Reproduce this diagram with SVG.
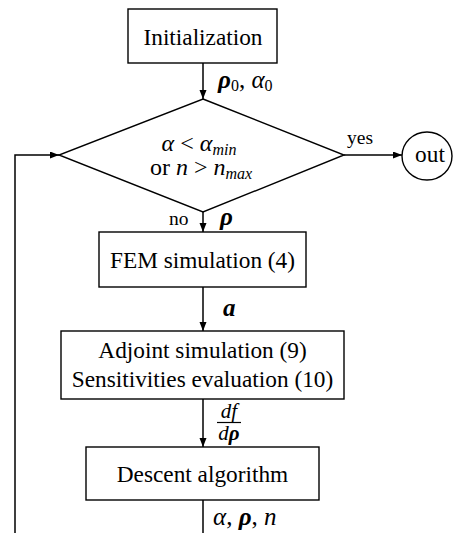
<svg xmlns="http://www.w3.org/2000/svg" width="453" height="533" viewBox="0 0 453 533">
<style>
.box{fill:#fff;stroke:#000;stroke-width:1.4}
.ln{fill:none;stroke:#000;stroke-width:1.5}
.t{font-family:"Liberation Serif","Times New Roman",serif;font-size:23.3px;fill:#000}
.lb{font-family:"Liberation Serif","Times New Roman",serif;font-size:19.5px;fill:#000}
.m{font-family:"Liberation Serif","Times New Roman",serif;font-size:25px;fill:#000}
.dm{font-family:"Liberation Serif","Times New Roman",serif;font-size:24px;fill:#000}
.fr{font-family:"Liberation Serif","Times New Roman",serif;font-size:21px;fill:#000}
.i{font-style:italic}
.bi{font-style:italic;font-weight:bold}
.sub{font-size:16px}
</style>
<defs>
<marker id="ah" markerUnits="userSpaceOnUse" markerWidth="10" markerHeight="8" refX="9" refY="3.5" orient="auto">
<path d="M0,0 L9,3.5 L0,7 z" fill="#000"/>
</marker>
</defs>
<g id="connectors">
<line class="ln" x1="203" y1="63" x2="203" y2="99" marker-end="url(#ah)"/>
<line class="ln" x1="203" y1="212" x2="203" y2="232" marker-end="url(#ah)"/>
<line class="ln" x1="203" y1="287" x2="203" y2="331" marker-end="url(#ah)"/>
<line class="ln" x1="203" y1="399" x2="203" y2="447" marker-end="url(#ah)"/>
<line class="ln" x1="203" y1="500" x2="203" y2="533"/>
<line class="ln" x1="344" y1="155" x2="402" y2="155" marker-end="url(#ah)"/>
<polyline class="ln" points="15,533 15,155 59,155" marker-end="url(#ah)"/>
<text class="m" x="218" y="88"><tspan class="bi">ρ</tspan><tspan class="sub" dy="3">0</tspan><tspan dy="-3">, </tspan><tspan class="i">α</tspan><tspan class="sub" dy="3">0</tspan></text>
<text class="lb" x="347" y="144">yes</text>
<text class="lb" x="169" y="225">no</text>
<text class="m bi" x="220" y="225">ρ</text>
<text class="m bi" x="223" y="316">a</text>
<text class="fr i" x="229" y="418" text-anchor="middle">df</text>
<line x1="217" y1="422.5" x2="241" y2="422.5" stroke="#000" stroke-width="1.2"/>
<text class="fr" x="229" y="440" text-anchor="middle"><tspan class="i">d</tspan><tspan class="bi">ρ</tspan></text>
<text class="m" x="213" y="525"><tspan class="i">α</tspan>, <tspan class="bi">ρ</tspan>, <tspan class="i">n</tspan></text>
</g>
<g id="init">
<rect class="box" x="128" y="9" width="149" height="54"/>
<text class="t" x="203" y="45" text-anchor="middle">Initialization</text>
</g>
<g id="decision">
<polygon class="box" points="203,99 344,155 203,212 59,155"/>
<text class="dm" x="199" y="151" text-anchor="middle"><tspan class="i">α</tspan> &lt; <tspan class="i">α</tspan><tspan class="i sub" dy="4">min</tspan></text>
<text class="dm" x="201" y="175" text-anchor="middle">or <tspan class="i">n</tspan> &gt; <tspan class="i">n</tspan><tspan class="i sub" dy="4">max</tspan></text>
</g>
<g id="out">
<ellipse class="box" cx="427" cy="156" rx="25" ry="24"/>
<text class="t" x="430" y="162" text-anchor="middle">out</text>
</g>
<g id="fem">
<rect class="box" x="99" y="232" width="207" height="55"/>
<text class="t" x="202.5" y="268" text-anchor="middle">FEM simulation (4)</text>
</g>
<g id="adjoint">
<rect class="box" x="61" y="331" width="283" height="68"/>
<text class="t" x="202.5" y="358" text-anchor="middle">Adjoint simulation (9)</text>
<text class="t" x="202.5" y="387" text-anchor="middle">Sensitivities evaluation (10)</text>
</g>
<g id="descent">
<rect class="box" x="86" y="447" width="233" height="53"/>
<text class="t" x="202.5" y="482" text-anchor="middle">Descent algorithm</text>
</g>
</svg>
